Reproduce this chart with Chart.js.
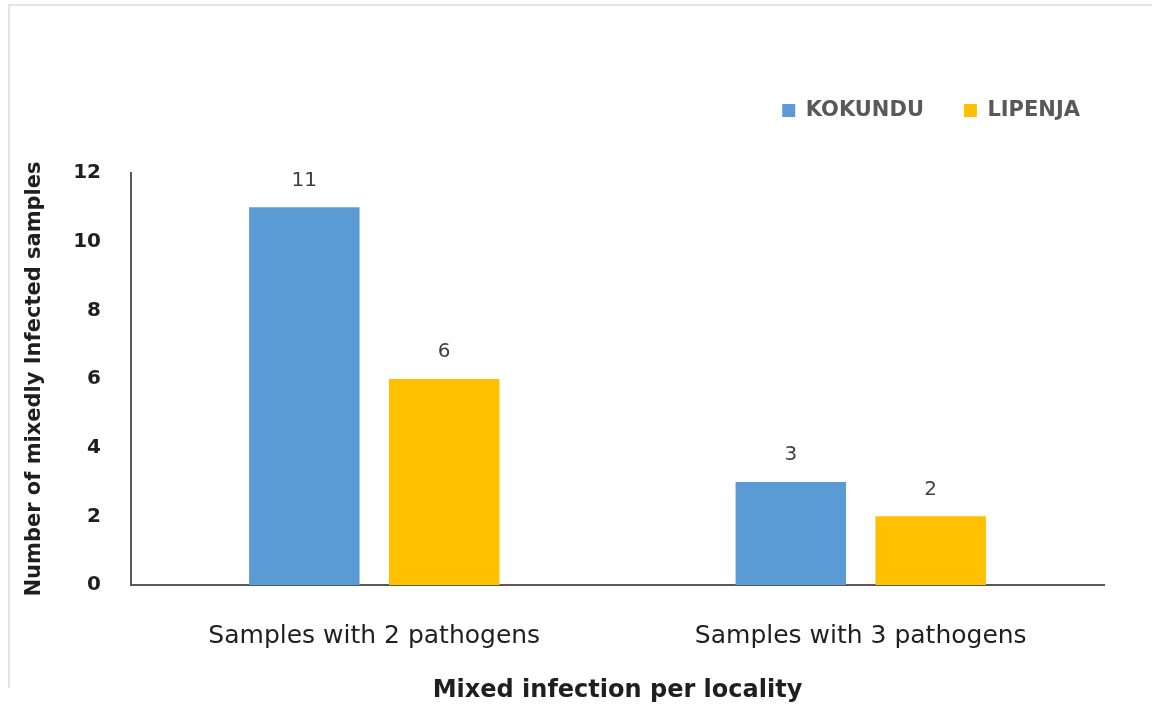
<!DOCTYPE html>
<html>
<head>
<meta charset="utf-8">
<script src="https://cdn.jsdelivr.net/npm/chart.js"></script>
<style>
  html, body { margin: 0; padding: 0; background: #fff; }
  #wrap { position: relative; width: 1152px; height: 715px; overflow: hidden; }
  #frame { position: absolute; left: 8px; top: 4px; width: 1160px; height: 682px;
           border-left: 2px solid #e3e3e3; border-top: 2px solid #e3e3e3; }
  canvas { position: absolute; left: 0; top: 0; }
</style>
</head>
<body>
<div id="wrap">
  <div id="frame"></div>
  <canvas id="chart" width="1152" height="715"></canvas>
</div>
<script>
    // ─── DATA ───────────────────────────────────────────────
    const categories = ['Samples with 2 pathogens', 'Samples with 3 pathogens'];
    const seriesNames = ['KOKUNDU', 'LIPENJA'];
    const kokunduValues = [11, 3];
    const lipenjaValues = [6, 2];
    const yTicks = [0, 2, 4, 6, 8, 10, 12];

    const FONT = "'DejaVu Sans', sans-serif";
    const TEXT = '#1f1f1f';

    // ─── PLUGIN: value labels above bars ────────────────────
    const barValueLabels = {
        id: 'barValueLabels',
        afterDatasetsDraw(chart) {
            const ctx = chart.ctx;
            ctx.save();
            ctx.font = '20px ' + FONT;
            ctx.fillStyle = '#404040';
            ctx.textAlign = 'center';
            ctx.textBaseline = 'middle';
            chart.data.datasets.forEach((ds, i) => {
                chart.getDatasetMeta(i).data.forEach((bar, j) => {
                    ctx.fillText(String(ds.data[j]), bar.x, bar.y - 27);
                });
            });
            ctx.restore();
        }
    };

    // ─── PLUGIN: nudge the legend up/right like the original ─
    const legendNudge = {
        id: 'legendNudge',
        afterLayout(chart) {
            const lg = chart.legend;
            if (!lg) return;
            const dx = 16, dy = -42;
            lg.left += dx; lg.right += dx;
            lg.top += dy; lg.bottom += dy;
        }
    };

    const ctx = document.getElementById('chart').getContext('2d');
    new Chart(ctx, {
        type: 'bar',
        data: {
            labels: categories,
            datasets: [
                { label: seriesNames[0], data: kokunduValues, backgroundColor: '#5B9BD5',
                  categoryPercentage: 0.575, barPercentage: 0.79 },
                { label: seriesNames[1], data: lipenjaValues, backgroundColor: '#FFC000',
                  categoryPercentage: 0.575, barPercentage: 0.79 }
            ]
        },
        options: {
            responsive: false,
            animation: false,
            layout: { padding: { top: 102, right: 48, bottom: 6, left: 18 } },
            plugins: {
                legend: {
                    position: 'top', align: 'end',
                    labels: { boxWidth: 13, boxHeight: 13, padding: 40, color: '#595959',
                              font: { family: FONT, size: 21, weight: 'bold' } }
                },
                tooltip: { enabled: false }
            },
            scales: {
                x: {
                    grid: { display: false },
                    border: { display: true, color: '#595959', width: 2 },
                    ticks: { color: TEXT, padding: 28, font: { family: FONT, size: 25 } },
                    title: { display: true, text: 'Mixed infection per locality', color: TEXT,
                             font: { family: FONT, size: 24, weight: 'bold' } },
                    afterFit: (scale) => { scale.height = 124; }
                },
                y: {
                    min: 0, max: 12,
                    afterBuildTicks: (scale) => { scale.ticks = yTicks.map(v => ({ value: v })); },
                    grid: { display: false, drawTicks: false },
                    border: { display: true, color: '#595959', width: 2 },
                    ticks: { color: TEXT, padding: 30, font: { family: FONT, size: 20, weight: 'bold' } },
                    title: { display: true, text: 'Number of mixedly Infected samples', color: TEXT,
                             font: { family: FONT, size: 21, weight: 'bold' } },
                    afterFit: (scale) => { scale.width = 113; }
                }
            }
        },
        plugins: [barValueLabels, legendNudge]
    });
</script>
</body>
</html>
